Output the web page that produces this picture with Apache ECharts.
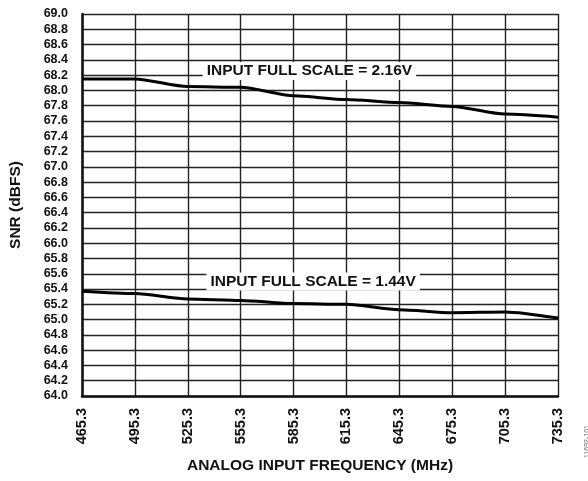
<!DOCTYPE html>
<html>
<head>
<meta charset="utf-8">
<script src="https://cdn.jsdelivr.net/npm/echarts@6/dist/echarts.min.js"></script>
<style>html,body{margin:0;padding:0;background:#fff}#c{width:588px;height:481px}</style>
</head>
<body>
<div id="c"></div>
<script>
var xLabels = ['465.3','495.3','525.3','555.3','585.3','615.3','645.3','675.3','705.3','735.3'];
var yTicks = {min: 64.0, max: 69.0, step: 0.2};
var snr216 = [68.15, 68.15, 68.05, 68.04, 67.93, 67.88, 67.84, 67.79, 67.69, 67.65];
var snr144 = [65.37, 65.34, 65.27, 65.25, 65.21, 65.20, 65.13, 65.09, 65.10, 65.02];
var label216 = 'INPUT FULL SCALE = 2.16V';
var label144 = 'INPUT FULL SCALE = 1.44V';
var xTitle = 'ANALOG INPUT FREQUENCY (MHz)';
var yTitle = 'SNR (dBFS)';
var figId = '11692-101';

var FONT = '"Liberation Sans", Arial, Helvetica, sans-serif';
function pts(arr){ return arr.map(function(v,i){ return [i, v]; }); }
function annot(text, x, y){
  return {
    symbol: 'rect', symbolSize: 0, silent: true, animation: false,
    data: [{ coord: [x, y], value: text }],
    label: {
      show: true, position: 'inside', formatter: text,
      fontFamily: FONT, fontWeight: 'bold', fontSize: 15.5, color: '#111',
      backgroundColor: '#fff', padding: [1, 4], lineHeight: 16
    }
  };
}
var chart = echarts.init(document.getElementById('c'), null, {renderer: 'canvas'});
chart.setOption({
  animation: false,
  backgroundColor: '#fff',
  grid: { left: 82, right: 30, top: 14, bottom: 85, containLabel: false },
  xAxis: {
    type: 'value', min: 0, max: xLabels.length - 1, interval: 1,
    name: xTitle, nameLocation: 'middle', nameGap: 62,
    nameTextStyle: { fontFamily: FONT, fontWeight: 'bold', fontSize: 15.5, color: '#111' },
    axisLine: { show: true, lineStyle: { color: '#111', width: 2.5 } },
    axisTick: { show: false },
    splitLine: { show: true, lineStyle: { color: '#222', width: 1.4 } },
    axisLabel: {
      rotate: 90, margin: 12, fontFamily: FONT, fontWeight: 'bold', fontSize: 14.5, color: '#111',
      formatter: function(v){ return xLabels[Math.round(v)] || ''; }
    }
  },
  yAxis: {
    type: 'value', min: yTicks.min, max: yTicks.max, interval: yTicks.step,
    name: yTitle, nameLocation: 'middle', nameGap: 58, nameRotate: 90,
    nameTextStyle: { fontFamily: FONT, fontWeight: 'bold', fontSize: 15.5, color: '#111' },
    axisLine: { show: true, lineStyle: { color: '#111', width: 2.5 } },
    axisTick: { show: false },
    splitLine: { show: true, lineStyle: { color: '#222', width: 1.4 } },
    axisLabel: {
      margin: 14, fontFamily: FONT, fontWeight: 'bold', fontSize: 12.5, color: '#111',
      formatter: function(v){ return v.toFixed(1); }
    }
  },
  series: [
    {
      type: 'line', data: pts(snr216), showSymbol: false, smooth: 0.25, smoothMonotone: 'x',
      lineStyle: { color: '#000', width: 3 }, z: 3,
      markPoint: annot(label216, 4.30, 68.254)
    },
    {
      type: 'line', data: pts(snr144), showSymbol: false, smooth: 0.25, smoothMonotone: 'x',
      lineStyle: { color: '#000', width: 3 }, z: 3,
      markPoint: annot(label144, 4.37, 65.50)
    }
  ],
  graphic: [{
    type: 'text', x: 587, y: 425, rotation: Math.PI / 2,
    style: { text: figId, fontFamily: FONT, fontSize: 7, fill: '#666', align: 'right', verticalAlign: 'middle' }
  }]
});
</script>
</body>
</html>
